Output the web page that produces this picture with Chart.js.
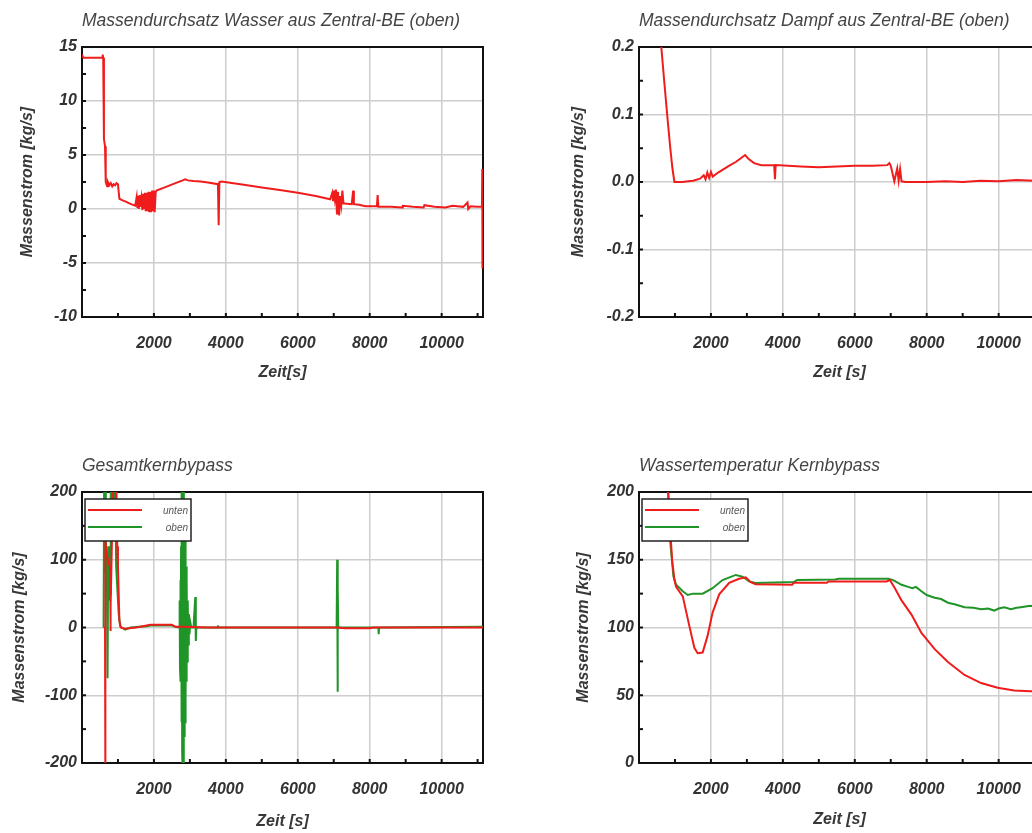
<!DOCTYPE html>
<html>
<head>
<meta charset="utf-8">
<script src="https://cdn.jsdelivr.net/npm/chart.js@4.4.1/dist/chart.umd.min.js"></script>
<style>
  html, body { margin: 0; padding: 0; width: 1032px; height: 833px; overflow: hidden; background: #fff; }
  .panel { position: absolute; }
</style>
</head>
<body>
<div class="panel" style="left:0;top:0;width:516px;height:400px"><canvas id="wasser"></canvas></div>
<div class="panel" style="left:516px;top:0;width:560px;height:400px"><canvas id="dampf"></canvas></div>
<div class="panel" style="left:0;top:440px;width:516px;height:393px"><canvas id="bypass"></canvas></div>
<div class="panel" style="left:516px;top:440px;width:560px;height:393px"><canvas id="temp"></canvas></div>
<script>
// Achsen
const xTicks = [0, 2000, 4000, 6000, 8000, 10000];
const xMax = 11150;
const yTicksWasser = [-10, -5, 0, 5, 10, 15];
const yTicksDampf = [-0.2, -0.1, 0, 0.1, 0.2];
const yTicksBypass = [-200, -100, 0, 100, 200];
const yTicksTemp = [0, 50, 100, 150, 200];
const legendLabels = ['unten', 'oben'];

// Massendurchsatz Wasser (oben)
const wasserT = [0, 40, 570, 575, 590, 610, 640, 660, 700, 720, 760, 800, 840, 880, 920, 960, 1000, 1020, 1040, 1100, 1200, 1300, 1400, 1480,
  1520, 1540, 1560, 1580, 1600, 1620, 1650, 1680, 1700, 1720, 1750, 1770, 1800, 1820, 1850, 1870, 1900, 1920, 1950, 1970, 2000, 2020, 2050, 2070,
  2300, 2600, 2800, 2870, 2950, 3100, 3300, 3500, 3780, 3800, 3820, 3880, 4500, 5000, 5500, 6000, 6500, 6900,
  6960, 6980, 7000, 7030, 7060, 7090, 7120, 7150, 7180, 7210, 7240, 7270, 7300, 7500, 7540, 7560, 7700, 7880,
  8200, 8220, 8240, 8600, 8900, 8920, 9200, 9500, 9520, 9800, 10100, 10300, 10600, 10720, 10740, 10800, 11000, 11120, 11130, 11135];
const wasserV = [14.3, 14.0, 14.0, 14.3, 14.0, 6.5, 5.8, 2.5, 2.1, 2.5, 2.2, 2.4, 2.1, 2.3, 2.2, 2.4, 2.3, 1.6, 0.95, 0.85, 0.7, 0.55, 0.4, 0.3,
  1.1, 0.1, 1.2, 0.0, 1.3, 0.2, 1.0, -0.1, 1.4, 0.0, 1.5, -0.2, 1.5, -0.2, 1.6, -0.3, 1.6, -0.3, 1.7, -0.2, 1.7, -0.3, 1.6, 1.7,
  2.0, 2.4, 2.65, 2.75, 2.65, 2.6, 2.55, 2.45, 2.3, -1.5, 2.5, 2.55, 2.25, 2.0, 1.75, 1.5, 1.2, 0.9,
  1.5, 0.8, 1.7, 0.9, 1.8, -0.5, 1.6, -0.6, 1.2, 0.4, 1.7, 0.5, 0.5, 0.45, 1.7, 0.45, 0.4, 0.25,
  0.25, 1.3, 0.2, 0.2, 0.15, 0.3, 0.2, 0.15, 0.35, 0.2, 0.15, 0.3, 0.2, 0.6, 0.0, 0.25, 0.2, 0.2, 3.7, -5.5];

// Massendurchsatz Dampf (oben)
const dampfT = [0, 560, 620, 700, 800, 870, 930, 985, 1200, 1500, 1700, 1800, 1850, 1900, 1950, 2000, 2050, 2200, 2500, 2700, 2850, 2950, 3050,
  3200, 3400, 3760, 3780, 3800, 4500, 5000, 5500, 6000, 6500, 6900, 6960, 7000, 7100, 7180, 7220, 7260, 7300, 7400, 8000, 8500, 9000, 9500,
  10000, 10500, 11000, 11150];
const dampfV = [0.32, 0.3, 0.2, 0.15, 0.09, 0.05, 0.02, 0.0, 0.0, 0.002, 0.005, 0.01, 0.004, 0.014, 0.006, 0.015, 0.008, 0.014, 0.024, 0.03, 0.036, 0.04, 0.034,
  0.028, 0.025, 0.025, 0.004, 0.025, 0.023, 0.022, 0.023, 0.024, 0.024, 0.025, 0.028, 0.024, 0.001, 0.02, 0.002, 0.019, 0.001, 0.0, 0.0, 0.001, 0.0, 0.002,
  0.001, 0.003, 0.002, 0.003];

// Gesamtkernbypass
const bypassUntenT = [600, 640, 645, 650, 655, 700, 740, 783, 790, 800, 840, 880, 950, 980, 1000, 1040, 1080, 1200, 1500, 1800, 1900, 2500, 2600, 2800, 3500, 7100, 7300, 8000, 8100, 11150];
const bypassUntenV = [0, 0, -230, -230, 130, 105, 95, 90, -5, 30, 150, 230, 230, 120, 90, 10, 0, -2, 0, 3, 4, 4, 1, 1, 0, 0, -1, -1, 0, 0];
const bypassObenT = [600, 617, 625, 635, 645, 660, 670, 690, 710, 730, 750, 770, 790, 800, 830, 860, 890, 920, 950, 980, 1020, 1060, 1100, 1200, 1350,
  1800, 1900, 2500, 2600, 2700, 2715, 2725, 2735, 2745, 2755, 2765, 2775, 2785, 2795, 2805, 2815, 2825, 2835, 2845, 2855, 2865, 2875, 2885, 2895,
  2905, 2915, 2925, 2940, 2955, 2970, 2990, 3010, 3040,
  3100, 3150, 3165, 3180, 3770, 3780, 3790, 7080, 7095, 7105, 7115, 7125, 8240, 8250, 8260, 11150];
const bypassObenV = [0, 230, 80, 230, 100, 230, 60, 110, -75, 120, 40, 110, 50, 230, 140, 230, 130, 230, 90, 60, 20, 2, 0, -3, 0,
  2, 3, 3, 1, 0, 40, -60, 70, -80, 120, -140, 230, -180, 230, -230, 230, -200, 230, -160, 180, -140, 130, -110, 90,
  -80, 70, -50, 40, -25, 20, -10, 8, 0,
  0, 45, -20, 0, 0, 3, 0, 0, 100, -95, 60, 0, 0, -10, 0, 1];

// Wassertemperatur Kernbypass
const tempUntenT = [780, 850, 920, 986, 1032, 1217, 1401, 1539, 1631, 1770, 1908, 2046, 2230, 2507, 2783, 2968, 3106, 3244, 4258, 4300, 5226, 5270,
  6885, 6977, 7115, 7300, 7576, 7853, 8222, 8590, 9051, 9512, 9973, 10434, 10876, 11150];
const tempUntenV = [215, 180, 150, 135, 130, 123, 101, 85, 81, 81.5, 94, 111, 124.5, 133, 136, 137, 133.5, 132, 131.5, 133, 133, 134,
  134, 135, 129, 120, 109.5, 96, 84, 74.5, 65, 59, 55.5, 53.5, 53, 53];
const tempObenT = [780, 830, 865, 958, 1032, 1217, 1355, 1500, 1770, 2046, 2323, 2691, 2876, 3060, 3244, 4300, 4400, 5456, 5550, 6930, 7069, 7300,
  7484, 7600, 7700, 7853, 8000, 8222, 8400, 8590, 8800, 9051, 9300, 9512, 9700, 9880, 10000, 10157, 10342, 10500, 10618, 10876, 11150];
const tempObenV = [215, 190, 164.5, 137.6, 131.5, 126.7, 124, 125, 125, 129, 135, 138.8, 137.6, 134, 132.8, 133.5, 135, 135.4, 136, 136, 135, 131.5,
  130, 129, 130, 126.7, 124, 122, 121, 118.3, 117, 115, 114.5, 113.5, 114, 112.5, 114, 115, 113.5, 114.5, 115, 116, 115];

const ROT = '#f01c1c';
const GRUEN = '#1f9427';
const SCHRIFT = "'Liberation Sans', Arial, sans-serif";

Chart.defaults.font.family = SCHRIFT;
Chart.defaults.animation = false;

function punkte(t, v) {
  return t.map((x, i) => ({ x: x, y: v[i] }));
}

// Rahmen und kleine Ticks unter den Kurven, Titel und Legende darüber
const extras = {
  id: 'extras',
  beforeDatasetsDraw(chart, args, o) {
    const { ctx, chartArea: a, scales } = chart;
    ctx.save();
    ctx.strokeStyle = '#111';
    ctx.lineWidth = 2;
    ctx.strokeRect(a.left, a.top, a.right - a.left, a.bottom - a.top);
    for (let t = 1000; t < xMax; t += 1000) {
      const px = scales.x.getPixelForValue(t);
      ctx.beginPath(); ctx.moveTo(px, a.bottom); ctx.lineTo(px, a.bottom - 4); ctx.stroke();
    }
    for (let v = scales.y.min; v <= scales.y.max + 1e-9; v += o.yMinor) {
      const py = scales.y.getPixelForValue(v);
      ctx.beginPath(); ctx.moveTo(a.left, py); ctx.lineTo(a.left + 4, py); ctx.stroke();
    }
    ctx.restore();
  },
  afterDatasetsDraw(chart, args, o) {
    const { ctx, chartArea: a } = chart;
    ctx.save();
    ctx.font = 'italic 17.5px ' + SCHRIFT;
    ctx.fillStyle = '#444';
    ctx.textBaseline = 'middle';
    ctx.textAlign = 'left';
    ctx.fillText(o.titel, a.left, a.top - 26);
    if (o.legende) {
      const bx = a.left + 3, by = a.top + 7, bw = 106, bh = 42;
      ctx.fillStyle = '#fff';
      ctx.fillRect(bx, by, bw, bh);
      ctx.lineWidth = 1.5;
      ctx.strokeStyle = '#222';
      ctx.strokeRect(bx, by, bw, bh);
      ctx.font = 'italic 10px ' + SCHRIFT;
      ctx.textAlign = 'right';
      [ROT, GRUEN].forEach((c, i) => {
        const ly = by + 11 + i * 17;
        ctx.strokeStyle = c;
        ctx.lineWidth = 2;
        ctx.beginPath(); ctx.moveTo(bx + 3, ly); ctx.lineTo(bx + 57, ly); ctx.stroke();
        ctx.fillStyle = '#555';
        ctx.fillText(legendLabels[i], bx + bw - 3, ly + 1);
      });
    }
    ctx.restore();
  }
};

function baueChart(id, cfg) {
  const datasets = cfg.serien.map(s => ({
    data: punkte(s.t, s.v),
    borderColor: s.farbe,
    borderWidth: 2,
    pointRadius: 0,
    showLine: true,
    tension: 0
  }));
  return new Chart(document.getElementById(id), {
    type: 'scatter',
    data: { datasets },
    plugins: [extras],
    options: {
      responsive: true,
      maintainAspectRatio: false,
      layout: { padding: { left: 0, top: cfg.top, right: cfg.right, bottom: 0 } },
      plugins: {
        legend: { display: false },
        tooltip: { enabled: false },
        extras: { titel: cfg.titel, yMinor: cfg.yMinor, legende: cfg.legende }
      },
      scales: {
        x: {
          type: 'linear', min: 0, max: xMax,
          afterBuildTicks: s => { s.ticks = xTicks.map(v => ({ value: v })); },
          afterFit: s => { s.height = cfg.xHoehe; },
          ticks: { callback: v => (v === 0 ? '' : v), color: '#333', padding: 17, font: { size: 16, style: 'italic', weight: 'bold' } },
          grid: { color: '#cdcdcd', lineWidth: 1.5, drawTicks: false },
          border: { color: '#111', width: 2 },
          title: { display: true, text: cfg.xTitel, color: '#383838', font: { size: 16, style: 'italic', weight: 'bold' }, padding: { top: 0, bottom: cfg.xTitelPad } }
        },
        y: {
          type: 'linear', min: cfg.yTicks[0], max: cfg.yTicks[cfg.yTicks.length - 1],
          afterBuildTicks: s => { s.ticks = cfg.yTicks.map(v => ({ value: v })); },
          afterFit: s => { s.width = cfg.yBreite; },
          ticks: { callback: cfg.yFormat || (v => v), color: '#333', padding: 5, font: { size: 16, style: 'italic', weight: 'bold' } },
          grid: { color: '#cdcdcd', lineWidth: 1.5, drawTicks: false },
          border: { color: '#111', width: 2 },
          title: { display: true, text: 'Massenstrom [kg/s]', color: '#383838', font: { size: 16, style: 'italic', weight: 'bold' }, padding: { top: cfg.yTitelPad, bottom: 0 } }
        }
      }
    }
  });
}

baueChart('wasser', {
  titel: 'Massendurchsatz Wasser aus Zentral-BE (oben)', xTitel: 'Zeit[s]',
  top: 47, right: 33, xHoehe: 83, yBreite: 82, yTitelPad: 18.4, xTitelPad: 17.4,
  yTicks: yTicksWasser, yMinor: 2.5,
  serien: [{ t: wasserT, v: wasserV, farbe: ROT }]
});

baueChart('dampf', {
  titel: 'Massendurchsatz Dampf aus Zentral-BE (oben)', xTitel: 'Zeit [s]',
  top: 47, right: 36, xHoehe: 83, yBreite: 123, yTitelPad: 53.4, xTitelPad: 17.4,
  yTicks: yTicksDampf, yMinor: 0.05, yFormat: v => v.toFixed(1),
  serien: [{ t: dampfT, v: dampfV, farbe: ROT }]
});

baueChart('bypass', {
  titel: 'Gesamtkernbypass', xTitel: 'Zeit [s]', legende: true,
  top: 52, right: 33, xHoehe: 70, yBreite: 82, yTitelPad: 10.4, xTitelPad: 1.4,
  yTicks: yTicksBypass, yMinor: 50,
  serien: [{ t: bypassUntenT, v: bypassUntenV, farbe: ROT }, { t: bypassObenT, v: bypassObenV, farbe: GRUEN }]
});

baueChart('temp', {
  titel: 'Wassertemperatur Kernbypass', xTitel: 'Zeit [s]', legende: true,
  top: 52, right: 36, xHoehe: 70, yBreite: 123, yTitelPad: 58.4, xTitelPad: 3.4,
  yTicks: yTicksTemp, yMinor: 25,
  serien: [{ t: tempUntenT, v: tempUntenV, farbe: ROT }, { t: tempObenT, v: tempObenV, farbe: GRUEN }]
});
</script>
</body>
</html>
